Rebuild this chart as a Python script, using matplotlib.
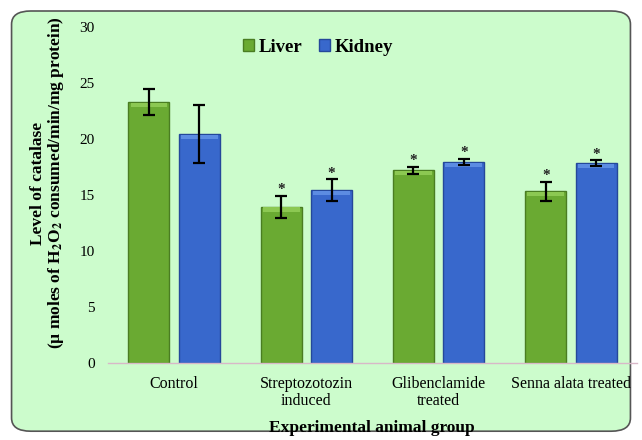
import numpy as np
import matplotlib
matplotlib.use("Agg")
import matplotlib.pyplot as plt
from matplotlib.patches import FancyBboxPatch

plt.rcParams['font.family'] = ['Liberation Serif', 'DejaVu Serif']
plt.rcParams['mathtext.fontset'] = 'stix'

# data
groups = ['Control', 'Streptozotozin\ninduced', 'Glibenclamide\ntreated', 'Senna alata treated']
liver = [23.3, 13.95, 17.2, 15.35]
liver_err = [1.15, 1.0, 0.3, 0.85]
kidney = [20.45, 15.45, 17.95, 17.85]
kidney_err = [2.6, 0.95, 0.25, 0.25]
liver_star = [False, True, True, True]
kidney_star = [False, True, True, True]

bg = '#ccfccc'
green = '#6aaa32'
green_top = '#8cc852'
green_edge = '#4a7d22'
blue = '#3868cc'
blue_top = '#5c8ce2'
blue_edge = '#24489a'

fig = plt.figure(figsize=(6.42, 4.40), dpi=100)
fig.patch.set_facecolor('white')

# rounded panel behind the chart
frame = FancyBboxPatch((0.018, 0.02), 0.964, 0.955,
                       boxstyle='round,pad=0,rounding_size=0.03',
                       transform=fig.transFigure, facecolor=bg,
                       edgecolor='#555555', linewidth=1.2, zorder=-5)
fig.patches.append(frame)

ax = fig.add_axes([108 / 642, 1 - 363 / 440, 529 / 642, 336 / 440])
ax.set_facecolor('none')
ax.set_zorder(1)

x = np.arange(len(groups))
w = 0.31
gap = 0.07
xl = x - (w + gap) / 2
xk = x + (w + gap) / 2

ax.bar(xl, liver, width=w, color=green, edgecolor=green_edge, linewidth=1.0,
       label='Liver', zorder=2)
ax.bar(xk, kidney, width=w, color=blue, edgecolor=blue_edge, linewidth=1.0,
       label='Kidney', zorder=2)
# light bevel strip along the top of each bar
band = 0.4
ax.bar(xl, band, bottom=np.array(liver) - band - 0.05, width=w * 0.9,
       color=green_top, linewidth=0, zorder=2.5)
ax.bar(xk, band, bottom=np.array(kidney) - band - 0.05, width=w * 0.9,
       color=blue_top, linewidth=0, zorder=2.5)

ax.errorbar(xl, liver, yerr=liver_err, fmt='none', ecolor='black',
            elinewidth=1.6, capsize=4, capthick=1.6, zorder=3)
ax.errorbar(xk, kidney, yerr=kidney_err, fmt='none', ecolor='black',
            elinewidth=1.6, capsize=4, capthick=1.6, zorder=3)

for xs, vals, errs, stars in [(xl, liver, liver_err, liver_star),
                              (xk, kidney, kidney_err, kidney_star)]:
    for xi, v, e, s in zip(xs, vals, errs, stars):
        if s:
            ax.text(xi, v + e + 0.55, '*', ha='center', va='center',
                    fontsize=11, fontweight='bold', color='#222222', zorder=4)

ax.set_xlim(-0.5, len(groups) - 0.5)
ax.set_ylim(0, 30)
ax.set_yticks(range(0, 31, 5))
ax.set_xticks(x)
ax.set_xticklabels(groups, fontsize=11.5, linespacing=1.15)
ax.tick_params(axis='y', labelsize=11, length=0, pad=9.5)
ax.tick_params(axis='x', length=0, pad=9)
for side in ['top', 'right', 'left']:
    ax.spines[side].set_visible(False)
ax.spines['bottom'].set_color('#d8b8c8')
ax.spines['bottom'].set_linewidth(1.0)

fig.text(0.5 * (108 + 636) / 642, 1 - 428 / 440, 'Experimental animal group',
         ha='center', va='center', fontsize=12.5, fontweight='bold')
fig.text(48 / 642, 1 - 183 / 440,
         'Level of catalase\n' +
         '(µ moles of H$_\\mathbf{2}$O$_\\mathbf{2}$ consumed/min/mg protein)',
         rotation=90, ha='center', va='center', multialignment='center',
         fontsize=12.5, fontweight='bold', linespacing=1.0)

ax.legend(loc='center', bbox_to_anchor=(318 / 642, 1 - 47 / 440), ncol=2,
          frameon=False, bbox_transform=fig.transFigure,
          prop={'weight': 'bold', 'size': 13.5}, handlelength=0.6,
          handleheight=0.6, handletextpad=0.25, columnspacing=0.9)

fig.savefig('out.png', dpi=100, facecolor='white')
